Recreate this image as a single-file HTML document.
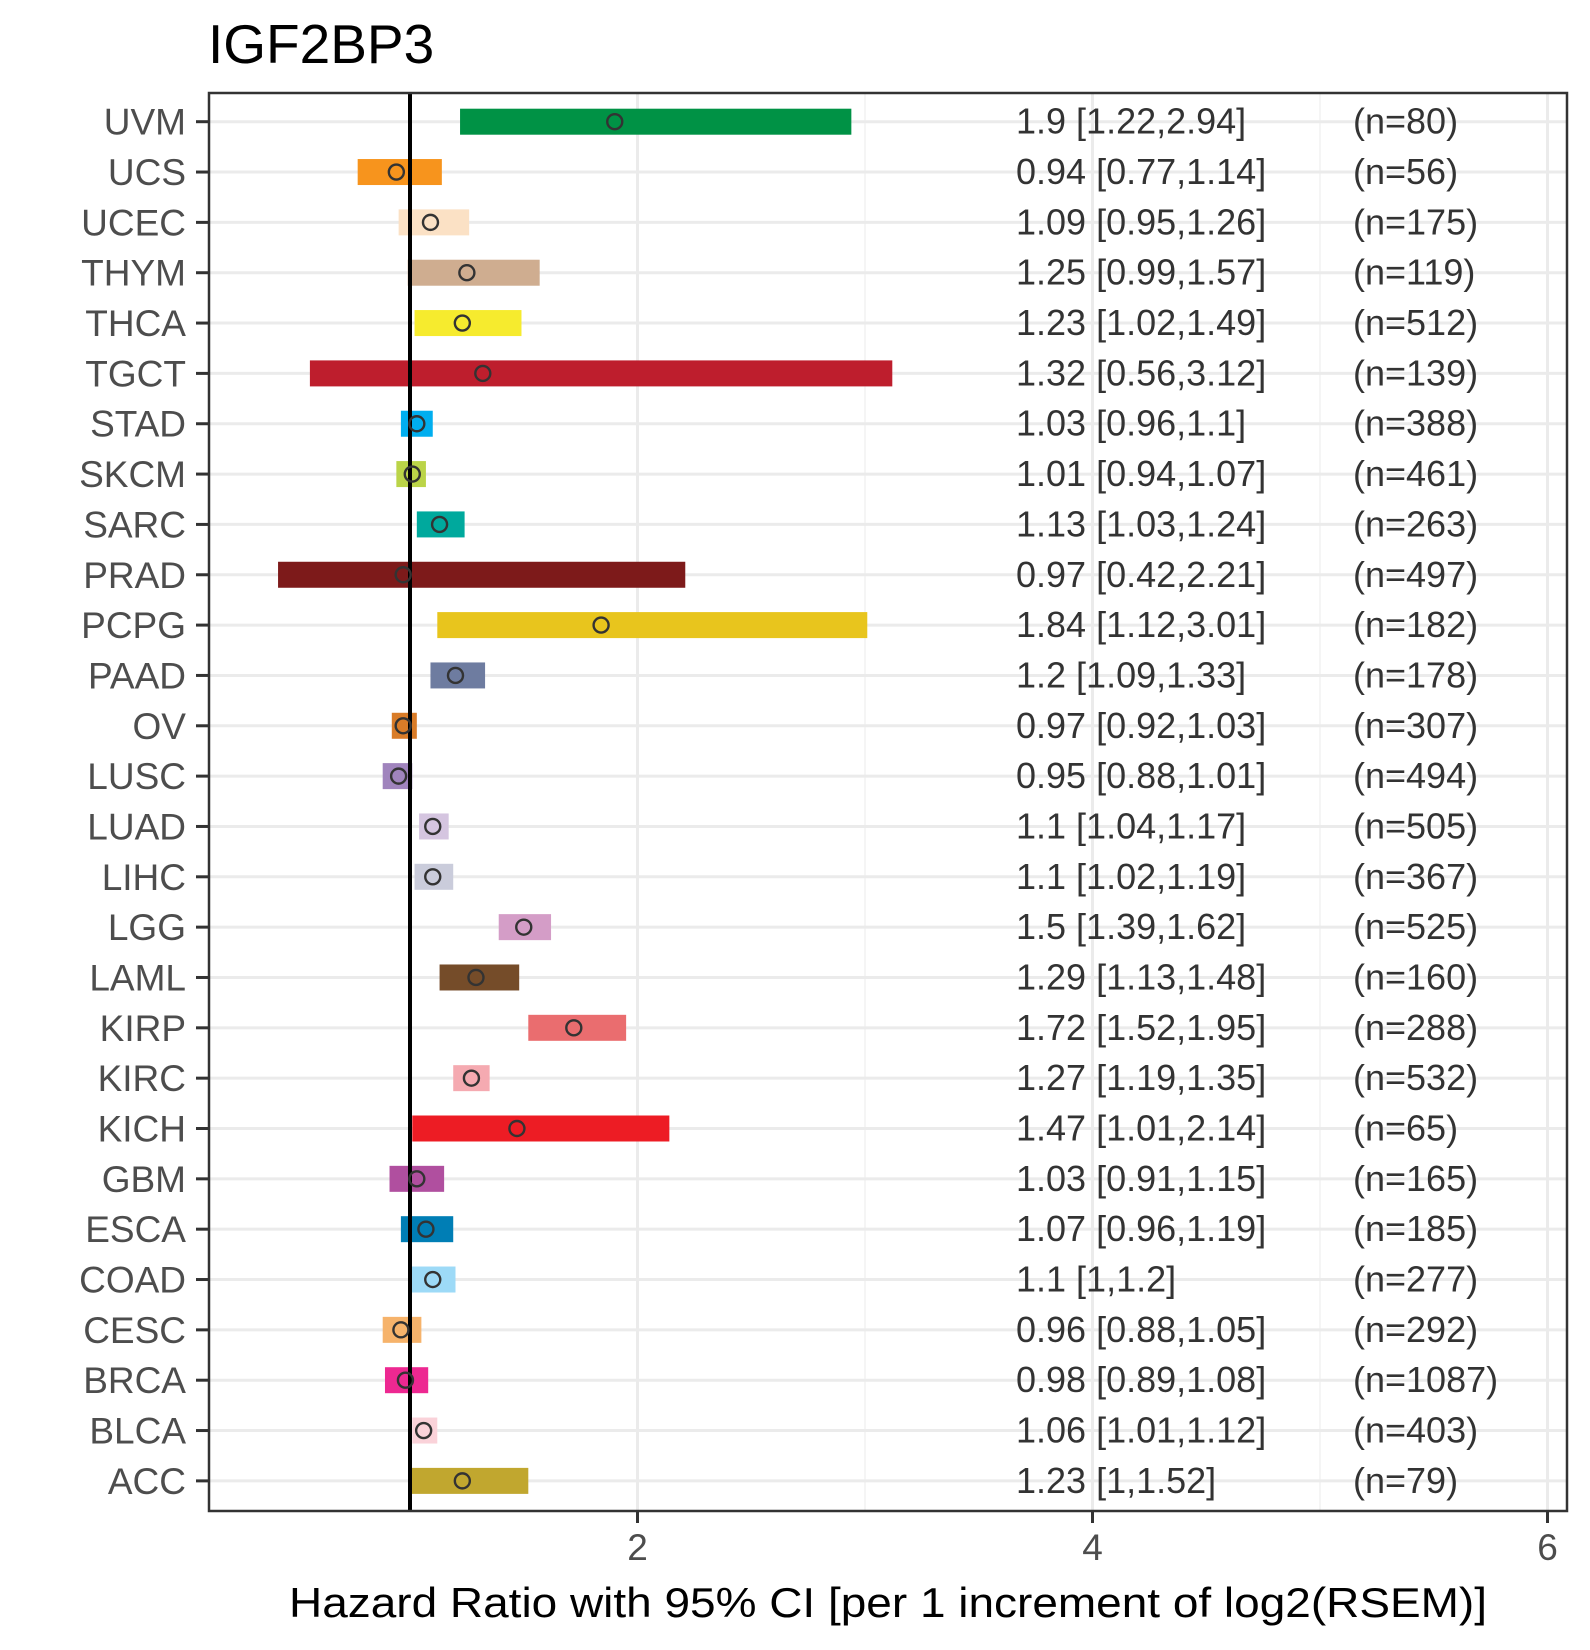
<!DOCTYPE html>
<html><head><meta charset="utf-8"><style>
html,body{margin:0;padding:0;background:#fff;}
svg{display:block;font-family:"Liberation Sans",Arial,sans-serif;}
</style></head><body>
<svg id="chart" width="1590" height="1650" viewBox="0 0 1590 1650" xmlns="http://www.w3.org/2000/svg">
<rect width="1590" height="1650" fill="#fff"/>
<text x="208" y="63" font-size="55" fill="#000">IGF2BP3</text>
<g id="grid"></g>
<g id="bars"></g>
<g id="texts"></g>
<rect x="209" y="93" width="1358" height="1418" fill="none" stroke="#333" stroke-width="2.5"/>
<g id="axes"></g>
<text x="888" y="1617" font-size="42" fill="#000" text-anchor="middle" textLength="1198" lengthAdjust="spacingAndGlyphs">Hazard Ratio with 95% CI [per 1 increment of log2(RSEM)]</text>
</svg>
<script>
const cancers=["UVM","UCS","UCEC","THYM","THCA","TGCT","STAD","SKCM","SARC","PRAD","PCPG","PAAD","OV","LUSC","LUAD","LIHC","LGG","LAML","KIRP","KIRC","KICH","GBM","ESCA","COAD","CESC","BRCA","BLCA","ACC"];
const hr=[1.9,0.94,1.09,1.25,1.23,1.32,1.03,1.01,1.13,0.97,1.84,1.2,0.97,0.95,1.1,1.1,1.5,1.29,1.72,1.27,1.47,1.03,1.07,1.1,0.96,0.98,1.06,1.23];
const lo=[1.22,0.77,0.95,0.99,1.02,0.56,0.96,0.94,1.03,0.42,1.12,1.09,0.92,0.88,1.04,1.02,1.39,1.13,1.52,1.19,1.01,0.91,0.96,1,0.88,0.89,1.01,1];
const hi=[2.94,1.14,1.26,1.57,1.49,3.12,1.1,1.07,1.24,2.21,3.01,1.33,1.03,1.01,1.17,1.19,1.62,1.48,1.95,1.35,2.14,1.15,1.19,1.2,1.05,1.08,1.12,1.52];
const nvals=[80,56,175,119,512,139,388,461,263,497,182,178,307,494,505,367,525,160,288,532,65,165,185,277,292,1087,403,79];
const colors=["#009245","#F7941D","#FBE1C5","#CFAD90","#F6EB2E","#BE1E2D","#00AEEF","#BBD448","#00A99D","#7D1A1A","#E8C51D","#6E7CA0","#D97C28","#A084BD","#D5C5E0","#CACCDB","#D49DC7","#754C29","#EA6D6F","#F5AAB1","#ED1C24","#B04F9F","#007EB5","#9DDAF7","#F6B36B","#ED2891","#FAD2D9","#C1A72F"];
const xTicks=[2,4,6];
const xMinor=[1,3,5];

const NS="http://www.w3.org/2000/svg";
const xs=v=>410+(v-1)*227.5;
const ys=i=>121.7+i*50.34;
function mk(tag,attrs,parent){const e=document.createElementNS(NS,tag);for(const k in attrs)e.setAttribute(k,attrs[k]);parent.appendChild(e);return e;}
const grid=document.getElementById('grid'),bars=document.getElementById('bars'),texts=document.getElementById('texts'),axes=document.getElementById('axes');

xMinor.forEach(v=>{const l=mk('line',{x1:xs(v),x2:xs(v),y1:93,y2:1511,stroke:'#f2f2f2','stroke-width':1.5},grid);

});
xTicks.forEach(v=>{const l=mk('line',{x1:xs(v),x2:xs(v),y1:93,y2:1511,stroke:'#ebebeb','stroke-width':3},grid);

});
cancers.forEach((c,i)=>{const l=mk('line',{x1:209,x2:1567,y1:ys(i),y2:ys(i),stroke:'#ebebeb','stroke-width':3},grid);

});

cancers.forEach((c,i)=>{
 const b=mk('rect',{x:xs(lo[i]),y:ys(i)-13,width:xs(hi[i])-xs(lo[i]),height:26,fill:colors[i]},bars);
 
 
});
const ref=mk('line',{x1:xs(1),x2:xs(1),y1:93,y2:1511,stroke:'#000','stroke-width':4},bars);


cancers.forEach((c,i)=>{
 const p=mk('circle',{cx:xs(hr[i]),cy:ys(i),r:7.5,fill:'none',stroke:'#333','stroke-width':2.4},bars);
 
 
 const t=mk('text',{x:1016,y:ys(i)+12,'font-size':36,fill:'#333'},texts);
 t.textContent=hr[i]+' ['+lo[i]+','+hi[i]+']';
 
 
 const n=mk('text',{x:1353,y:ys(i)+12,'font-size':36,fill:'#333'},texts);
 n.textContent='(n='+nvals[i]+')';
 
 
 const yl=mk('text',{x:186,y:ys(i)+13,'font-size':37,fill:'#4d4d4d','text-anchor':'end'},axes);
 yl.textContent=c;
 
 
 const tk=mk('line',{x1:196,x2:209,y1:ys(i),y2:ys(i),stroke:'#333','stroke-width':3},axes);
 
 
});
xTicks.forEach(v=>{
 const tk=mk('line',{x1:xs(v),x2:xs(v),y1:1511,y2:1523,stroke:'#333','stroke-width':3},axes);
 
 
 const tl=mk('text',{x:xs(v),y:1560,'font-size':37,fill:'#4d4d4d','text-anchor':'middle'},axes);
 tl.textContent=v;
 
 
});
</script>
</body></html>
